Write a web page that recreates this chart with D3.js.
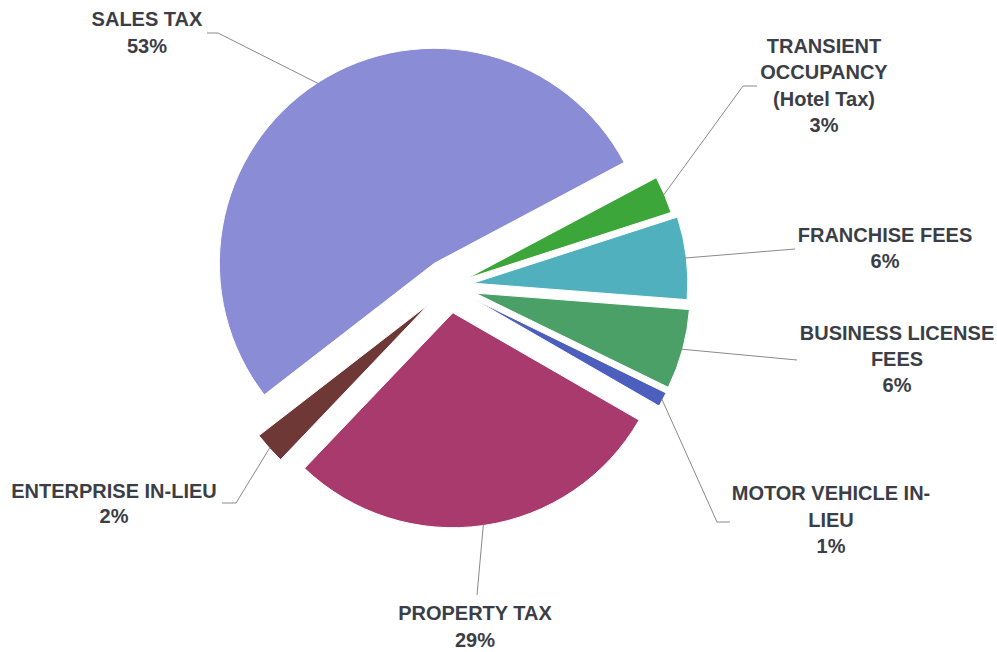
<!DOCTYPE html>
<html><head><meta charset="utf-8">
<script src="https://cdn.jsdelivr.net/npm/d3@7"></script>
<style>html,body{margin:0;padding:0;background:#fff;overflow:hidden}</style>
</head><body><svg id="chart" width="997" height="652"></svg>
<script>
// ---- data (shares in %; labels show rounded values) ----
const categories = ["Transient Occupancy (Hotel Tax)", "Franchise Fees", "Business License Fees", "Motor Vehicle In-Lieu", "Property Tax", "Enterprise In-Lieu", "Sales Tax"];
const labelLines = [["TRANSIENT","OCCUPANCY","(Hotel Tax)"], ["FRANCHISE FEES"], ["BUSINESS LICENSE","FEES"], ["MOTOR VEHICLE IN-","LIEU"], ["PROPERTY TAX"], ["ENTERPRISE IN-LIEU"], ["SALES TAX"]];
const values = [2.8, 6.2, 6.0, 1.1, 28.8, 2.4, 52.7];
const colors = ["#3da63a", "#50b0be", "#4ba067", "#4d5fbd", "#a83a6e", "#6d3835", "#8b8cd6"];

// ---- layout ----
const center = [449, 286], R = 215, startDeg = 62;
const explodeBy = [19, 24, 27, 27, 27, 27, 27];
const labelLayout = [
  {x: 824, y: 53,  lh: 26.3, pts: [[757, 86], [743, 86]]},
  {x: 885, y: 242, lh: 26,   pts: [[795, 249]]},
  {x: 897, y: 340, lh: 26,   pts: [[797, 360]]},
  {x: 831, y: 500, lh: 26.5, pts: [[730, 522], [717, 522]]},
  {x: 475, y: 620, lh: 27,   pts: [[477, 595]]},
  {x: 114, y: 498, lh: 25,   pts: [[222, 503], [236, 503]]},
  {x: 147, y: 26,  lh: 27,   pts: [[207, 33], [218, 33]]}
];

const svg = d3.select("#chart");
const total = d3.sum(values);
const start = startDeg * Math.PI / 180;
const pie = d3.pie().sort(null).value(d => d).startAngle(start).endAngle(start + 2 * Math.PI);
const arcs = pie(values);
const arc = d3.arc().innerRadius(0).outerRadius(R);

const g = svg.append("g").attr("transform", `translate(${center[0]},${center[1]})`);

g.selectAll("path.slice").data(arcs).join("path")
  .attr("class", "slice")
  .attr("d", arc)
  .attr("fill", (d, i) => colors[i])
  .attr("stroke", "#fff").attr("stroke-width", 1)
  .attr("transform", (d, i) => {
    const m = (d.startAngle + d.endAngle) / 2;
    return `translate(${explodeBy[i] * Math.sin(m)},${-explodeBy[i] * Math.cos(m)})`;
  });

// leader lines
const line = d3.line();
arcs.forEach((d, i) => {
  const m = (d.startAngle + d.endAngle) / 2;
  const ex = center[0] + (explodeBy[i] + R - 1) * Math.sin(m);
  const ey = center[1] - (explodeBy[i] + R - 1) * Math.cos(m);
  const pts = labelLayout[i].pts.concat([[ex, ey]]);
  svg.append("path").attr("d", line(pts))
    .attr("fill", "none").attr("stroke", "#8a8a8a").attr("stroke-width", 1);
});

// labels
arcs.forEach((d, i) => {
  const L = labelLayout[i];
  const lines = labelLines[i].concat([Math.round(values[i] / total * 100) + "%"]);
  const t = svg.append("text")
    .attr("text-anchor", "middle")
    .attr("font-family", "'Liberation Sans', Arial, sans-serif")
    .attr("font-weight", "700")
    .attr("font-size", 20)
    .attr("fill", "#3b3e46");
  lines.forEach((s, k) => {
    t.append("tspan").attr("x", L.x).attr("y", L.y + k * L.lh).text(s);
  });
});
</script>
</body></html>
